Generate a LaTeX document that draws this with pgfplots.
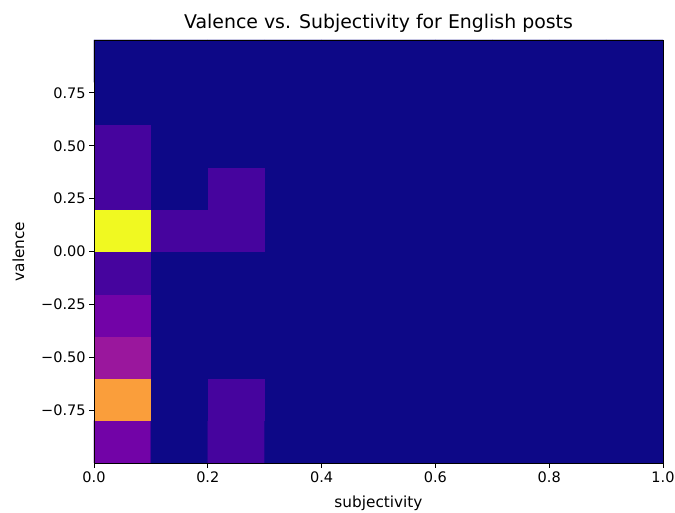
\documentclass[border=0pt]{standalone}
\usepackage{pgfplots}
\pgfplotsset{compat=1.18}
\usepackage{fontspec}
\setmainfont{DejaVu Sans}
\definecolor{pl0}{RGB}{13,8,135}
\pgfplotsset{colormap={plasma}{rgb255=(13,8,135) rgb255=(65,4,157) rgb255=(106,0,168) rgb255=(143,13,164) rgb255=(177,42,144) rgb255=(204,71,120) rgb255=(225,100,98) rgb255=(242,132,75) rgb255=(252,166,54) rgb255=(252,206,37) rgb255=(240,249,33)}}
\begin{document}
\begin{tikzpicture}
\begin{axis}[
  name=ax,
  scale only axis,
  width=569pt, height=423pt,
  xmin=0, xmax=1, ymin=-1, ymax=1,
  enlargelimits=false,
  axis on top,
  axis background/.style={fill=pl0},
  colormap name=plasma,
  point meta min=0, point meta max=9,
  xtick={0,0.2,0.4,0.6,0.8,1.0},
  xticklabels={0.0,0.2,0.4,0.6,0.8,1.0},
  ytick={-0.75,-0.5,-0.25,0,0.25,0.5,0.75},
  yticklabels={−0.75,−0.50,−0.25,0.00,0.25,0.50,0.75},
  tick align=outside,
  major tick length=4.9pt,
  tick style={black, line width=0.8pt},
  axis line style={black, line width=0.8pt},
  xtick pos=bottom, ytick pos=left,
  ticklabel style={font=\fontsize{14.5}{16}\selectfont},
  label style={font=\fontsize{15.3}{17}\selectfont},
  title style={font=\fontsize{18.9}{21}\selectfont, yshift=-2pt},
  title={Valence vs. Subjectivity for English posts},
  xlabel={subjectivity},
  ylabel={valence},
  xlabel style={yshift=-7pt},
  ylabel style={yshift=10pt},
]
\addplot[matrix plot*, mesh/cols=10, point meta=explicit] table[meta=c] {
x y c
0.05 -0.9 2
0.15 -0.9 0
0.25 -0.9 1
0.35 -0.9 0
0.45 -0.9 0
0.55 -0.9 0
0.65 -0.9 0
0.75 -0.9 0
0.85 -0.9 0
0.95 -0.9 0
0.05 -0.7 7
0.15 -0.7 0
0.25 -0.7 1
0.35 -0.7 0
0.45 -0.7 0
0.55 -0.7 0
0.65 -0.7 0
0.75 -0.7 0
0.85 -0.7 0
0.95 -0.7 0
0.05 -0.5 3
0.15 -0.5 0
0.25 -0.5 0
0.35 -0.5 0
0.45 -0.5 0
0.55 -0.5 0
0.65 -0.5 0
0.75 -0.5 0
0.85 -0.5 0
0.95 -0.5 0
0.05 -0.3 2
0.15 -0.3 0
0.25 -0.3 0
0.35 -0.3 0
0.45 -0.3 0
0.55 -0.3 0
0.65 -0.3 0
0.75 -0.3 0
0.85 -0.3 0
0.95 -0.3 0
0.05 -0.1 1
0.15 -0.1 0
0.25 -0.1 0
0.35 -0.1 0
0.45 -0.1 0
0.55 -0.1 0
0.65 -0.1 0
0.75 -0.1 0
0.85 -0.1 0
0.95 -0.1 0
0.05 0.1 9
0.15 0.1 1
0.25 0.1 1
0.35 0.1 0
0.45 0.1 0
0.55 0.1 0
0.65 0.1 0
0.75 0.1 0
0.85 0.1 0
0.95 0.1 0
0.05 0.3 1
0.15 0.3 0
0.25 0.3 1
0.35 0.3 0
0.45 0.3 0
0.55 0.3 0
0.65 0.3 0
0.75 0.3 0
0.85 0.3 0
0.95 0.3 0
0.05 0.5 1
0.15 0.5 0
0.25 0.5 0
0.35 0.5 0
0.45 0.5 0
0.55 0.5 0
0.65 0.5 0
0.75 0.5 0
0.85 0.5 0
0.95 0.5 0
0.05 0.7 0
0.15 0.7 0
0.25 0.7 0
0.35 0.7 0
0.45 0.7 0
0.55 0.7 0
0.65 0.7 0
0.75 0.7 0
0.85 0.7 0
0.95 0.7 0
0.05 0.9 0
0.15 0.9 0
0.25 0.9 0
0.35 0.9 0
0.45 0.9 0
0.55 0.9 0
0.65 0.9 0
0.75 0.9 0
0.85 0.9 0
0.95 0.9 0
};
\end{axis}
\pgfresetboundingbox
\path ([shift={(-94pt,-50pt)}]ax.south west) rectangle ([shift={(12pt,40pt)}]ax.north east);
\end{tikzpicture}
\end{document}
